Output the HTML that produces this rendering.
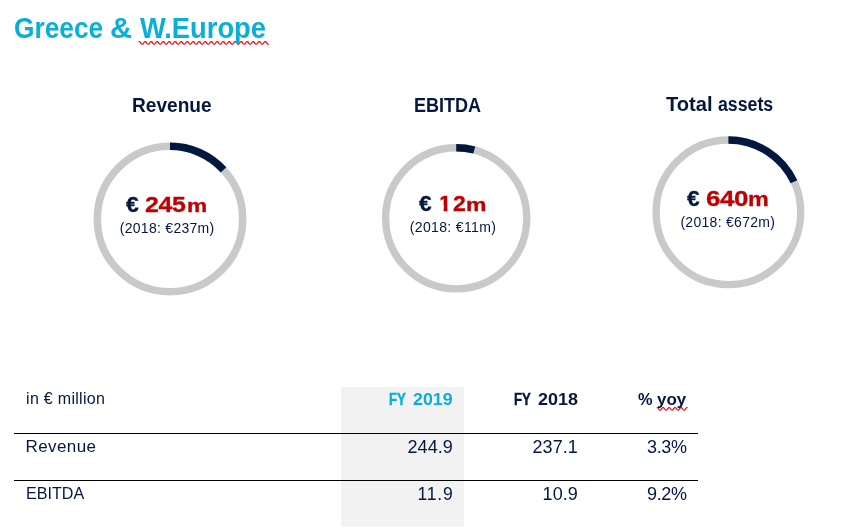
<!DOCTYPE html>
<html lang="en"><head><meta charset="utf-8"><title>Greece &amp; W.Europe</title>
<style>
html,body{margin:0;padding:0;background:#fff}
body{width:865px;height:529px;position:relative;overflow:hidden;font-family:"Liberation Sans",sans-serif}
.g{position:absolute;left:0;top:0}
.grp{margin:0;padding:0;font-size:0;line-height:0;height:0}
.t{position:absolute;white-space:nowrap;line-height:1;transform-origin:0 0}
</style></head>
<body>
<svg class="g" width="865" height="529" viewBox="0 0 865 529"><rect x="341" y="387" width="122.8" height="139.7" fill="#F2F2F2"/><rect x="14" y="433" width="684" height="1" fill="#000"/><rect x="14" y="480" width="684" height="1" fill="#000"/><circle cx="170" cy="219.05" r="72.7" fill="none" stroke="#C8C9CB" stroke-width="7.5"/><path d="M170 146.35A72.7 72.7 0 0 1 223.51 169.84" fill="none" stroke="#00183E" stroke-width="7.5"/><circle cx="456.2" cy="218.3" r="70.6" fill="none" stroke="#C8C9CB" stroke-width="7.4"/><path d="M456.2 147.70A70.6 70.6 0 0 1 474.23 150.04" fill="none" stroke="#00183E" stroke-width="7.4"/><circle cx="728.4" cy="212.3" r="72.3" fill="none" stroke="#C8C9CB" stroke-width="7.3"/><path d="M728.4 140.00A72.3 72.3 0 0 1 793.93 181.74" fill="none" stroke="#00183E" stroke-width="7.3"/><path d="M139.0 41.53L139.5 41.57L140.0 41.96L140.5 42.61L141.0 43.33L141.5 43.94L142.0 44.27L142.5 44.23L143.0 43.84L143.5 43.19L144.0 42.47L144.5 41.86L145.0 41.53L145.5 41.57L146.0 41.96L146.5 42.61L147.0 43.33L147.5 43.94L148.0 44.27L148.5 44.23L149.0 43.84L149.5 43.19L150.0 42.47L150.5 41.86L151.0 41.53L151.5 41.57L152.0 41.96L152.5 42.61L153.0 43.33L153.5 43.94L154.0 44.27L154.5 44.23L155.0 43.84L155.5 43.19L156.0 42.47L156.5 41.86L157.0 41.53L157.5 41.57L158.0 41.96L158.5 42.61L159.0 43.33L159.5 43.94L160.0 44.27L160.5 44.23L161.0 43.84L161.5 43.19L162.0 42.47L162.5 41.86L163.0 41.53L163.5 41.57L164.0 41.96L164.5 42.61L165.0 43.33L165.5 43.94L166.0 44.27L166.5 44.23L167.0 43.84L167.5 43.19L168.0 42.47L168.5 41.86L169.0 41.53L169.5 41.57L170.0 41.96L170.5 42.61L171.0 43.33L171.5 43.94L172.0 44.27L172.5 44.23L173.0 43.84L173.5 43.19L174.0 42.47L174.5 41.86L175.0 41.53L175.5 41.57L176.0 41.96L176.5 42.61L177.0 43.33L177.5 43.94L178.0 44.27L178.5 44.23L179.0 43.84L179.5 43.19L180.0 42.47L180.5 41.86L181.0 41.53L181.5 41.57L182.0 41.96L182.5 42.61L183.0 43.33L183.5 43.94L184.0 44.27L184.5 44.23L185.0 43.84L185.5 43.19L186.0 42.47L186.5 41.86L187.0 41.53L187.5 41.57L188.0 41.96L188.5 42.61L189.0 43.33L189.5 43.94L190.0 44.27L190.5 44.23L191.0 43.84L191.5 43.19L192.0 42.47L192.5 41.86L193.0 41.53L193.5 41.57L194.0 41.96L194.5 42.61L195.0 43.33L195.5 43.94L196.0 44.27L196.5 44.23L197.0 43.84L197.5 43.19L198.0 42.47L198.5 41.86L199.0 41.53L199.5 41.57L200.0 41.96L200.5 42.61L201.0 43.33L201.5 43.94L202.0 44.27L202.5 44.23L203.0 43.84L203.5 43.19L204.0 42.47L204.5 41.86L205.0 41.53L205.5 41.57L206.0 41.96L206.5 42.61L207.0 43.33L207.5 43.94L208.0 44.27L208.5 44.23L209.0 43.84L209.5 43.19L210.0 42.47L210.5 41.86L211.0 41.53L211.5 41.57L212.0 41.96L212.5 42.61L213.0 43.33L213.5 43.94L214.0 44.27L214.5 44.23L215.0 43.84L215.5 43.19L216.0 42.47L216.5 41.86L217.0 41.53L217.5 41.57L218.0 41.96L218.5 42.61L219.0 43.33L219.5 43.94L220.0 44.27L220.5 44.23L221.0 43.84L221.5 43.19L222.0 42.47L222.5 41.86L223.0 41.53L223.5 41.57L224.0 41.96L224.5 42.61L225.0 43.33L225.5 43.94L226.0 44.27L226.5 44.23L227.0 43.84L227.5 43.19L228.0 42.47L228.5 41.86L229.0 41.53L229.5 41.57L230.0 41.96L230.5 42.61L231.0 43.33L231.5 43.94L232.0 44.27L232.5 44.23L233.0 43.84L233.5 43.19L234.0 42.47L234.5 41.86L235.0 41.53L235.5 41.57L236.0 41.96L236.5 42.61L237.0 43.33L237.5 43.94L238.0 44.27L238.5 44.23L239.0 43.84L239.5 43.19L240.0 42.47L240.5 41.86L241.0 41.53L241.5 41.57L242.0 41.96L242.5 42.61L243.0 43.33L243.5 43.94L244.0 44.27L244.5 44.23L245.0 43.84L245.5 43.19L246.0 42.47L246.5 41.86L247.0 41.53L247.5 41.57L248.0 41.96L248.5 42.61L249.0 43.33L249.5 43.94L250.0 44.27L250.5 44.23L251.0 43.84L251.5 43.19L252.0 42.47L252.5 41.86L253.0 41.53L253.5 41.57L254.0 41.96L254.5 42.61L255.0 43.33L255.5 43.94L256.0 44.27L256.5 44.23L257.0 43.84L257.5 43.19L258.0 42.47L258.5 41.86L259.0 41.53L259.5 41.57L260.0 41.96L260.5 42.61L261.0 43.33L261.5 43.94L262.0 44.27L262.5 44.23L263.0 43.84L263.5 43.19L264.0 42.47L264.5 41.86L265.0 41.53L265.5 41.57L266.0 41.96L266.5 42.61L267.0 43.33L267.5 43.94L268.0 44.27L268.5 44.23" fill="none" stroke="#E8000A" stroke-width="1.15" stroke-linejoin="round" stroke-linecap="round"/><path d="M657.2 407.56L657.7 407.80L658.2 408.32L658.7 408.99L659.2 409.61L659.7 410.04L660.2 410.14L660.7 409.90L661.2 409.38L661.7 408.71L662.2 408.09L662.7 407.66L663.2 407.56L663.7 407.80L664.2 408.32L664.7 408.99L665.2 409.61L665.7 410.04L666.2 410.14L666.7 409.90L667.2 409.38L667.7 408.71L668.2 408.09L668.7 407.66L669.2 407.56L669.7 407.80L670.2 408.32L670.7 408.99L671.2 409.61L671.7 410.04L672.2 410.14L672.7 409.90L673.2 409.38L673.7 408.71L674.2 408.09L674.7 407.66L675.2 407.56L675.7 407.80L676.2 408.32L676.7 408.99L677.2 409.61L677.7 410.04L678.2 410.14L678.7 409.90L679.2 409.38L679.7 408.71L680.2 408.09L680.7 407.66L681.2 407.56L681.7 407.80L682.2 408.32L682.7 408.99L683.2 409.61L683.7 410.04L684.2 410.14L684.7 409.90L685.2 409.38L685.7 408.71L686.2 408.09L686.7 407.66L687.2 407.56" fill="none" stroke="#E8000A" stroke-width="1.15" stroke-linejoin="round" stroke-linecap="round"/></svg>
<h1 class="grp"><span class="t" style="left:14.0px;top:13.6px;font-size:29.0px;font-weight:700;letter-spacing:0px;color:#09AFD8;transform:scaleX(0.906)">Greece</span> <span class="t" style="left:110.0px;top:13.6px;font-size:29.0px;font-weight:700;letter-spacing:0px;color:#09AFD8;transform:scaleX(1.051)">&amp;</span> <span class="t" style="left:140.1px;top:13.6px;font-size:29.0px;font-weight:700;letter-spacing:0px;color:#09AFD8;transform:scaleX(0.942)">W.Europe</span></h1>
<div class="t" style="left:132.2px;top:94.9px;font-size:20.0px;font-weight:700;letter-spacing:0px;color:#04183E;transform:scaleX(0.955)">Revenue</div>
<p class="grp"><span class="t" style="left:126.0px;top:195.3px;font-size:21.5px;font-weight:700;letter-spacing:0px;color:#04183E;transform:scaleX(1.064);-webkit-text-stroke:0.3px #04183E">€</span> <span class="t" style="left:145.3px;top:194.2px;font-size:22.0px;font-weight:700;letter-spacing:-0.26px;color:#C00000;transform:scaleX(1.13);-webkit-text-stroke:0.3px #C00000">245</span><span class="t" style="left:186.8px;top:196.4px;font-size:19.0px;font-weight:700;letter-spacing:0px;color:#C00000;transform:scaleX(1.193);-webkit-text-stroke:0.3px #C00000">m</span></p>
<div class="t" style="left:119.8px;top:220.7px;font-size:14.0px;font-weight:400;letter-spacing:0.28px;color:#04183E">(2018: €237m)</div>
<div class="t" style="left:413.6px;top:95.0px;font-size:20.5px;font-weight:700;letter-spacing:0px;color:#04183E;transform:scaleX(0.879)">EBITDA</div>
<p class="grp"><span class="t" style="left:419.0px;top:194.1px;font-size:21.5px;font-weight:700;letter-spacing:0px;color:#04183E;transform:scaleX(1.055);-webkit-text-stroke:0.3px #04183E">€</span> <span class="t" style="left:438.4px;top:193.3px;font-size:22.5px;font-weight:700;letter-spacing:0px;color:#C00000;transform:scaleX(1.12);-webkit-text-stroke:0.3px #C00000;clip-path:polygon(2.1px -5px,8.48px -5px,8.48px 40px,5.03px 40px,5.03px 12px,2.1px 12px)">1</span><span class="t" style="left:452.6px;top:193.3px;font-size:22.0px;font-weight:700;letter-spacing:0px;color:#C00000;transform:scaleX(1.045);-webkit-text-stroke:0.3px #C00000">2</span><span class="t" style="left:465.9px;top:195.3px;font-size:19.0px;font-weight:700;letter-spacing:0px;color:#C00000;transform:scaleX(1.207);-webkit-text-stroke:0.3px #C00000">m</span></p>
<div class="t" style="left:409.8px;top:219.6px;font-size:14.0px;font-weight:400;letter-spacing:0.35px;color:#04183E">(2018: €11m)</div>
<p class="grp"><span class="t" style="left:665.6px;top:93.7px;font-size:20.0px;font-weight:700;letter-spacing:0px;color:#04183E;transform:scaleX(1.006)">Total</span> <span class="t" style="left:717.6px;top:93.7px;font-size:20.0px;font-weight:700;letter-spacing:0px;color:#04183E;transform:scaleX(0.887)">assets</span></p>
<p class="grp"><span class="t" style="left:686.8px;top:188.9px;font-size:21.5px;font-weight:700;letter-spacing:0px;color:#04183E;transform:scaleX(1.055);-webkit-text-stroke:0.3px #04183E">€</span> <span class="t" style="left:705.6px;top:187.9px;font-size:22.0px;font-weight:700;letter-spacing:-0.34px;color:#C00000;transform:scaleX(1.18);-webkit-text-stroke:0.3px #C00000">640</span><span class="t" style="left:748.0px;top:189.2px;font-size:20.0px;font-weight:700;letter-spacing:0px;color:#C00000;transform:scaleX(1.168);-webkit-text-stroke:0.3px #C00000">m</span></p>
<div class="t" style="left:680.4px;top:215.3px;font-size:14.0px;font-weight:400;letter-spacing:0.29px;color:#04183E">(2018: €672m)</div>
<div class="t" style="left:26.1px;top:390.9px;font-size:16.0px;font-weight:400;letter-spacing:0.29px;color:#04183E">in € million</div>
<p class="grp"><span class="t" style="left:389.1px;top:391.1px;font-size:17.0px;font-weight:700;letter-spacing:0px;color:#09AFD8;transform:scaleX(0.776);-webkit-text-stroke:0.45px #09AFD8">FY</span> <span class="t" style="left:413.0px;top:391.4px;font-size:17.0px;font-weight:700;letter-spacing:0px;color:#09AFD8;transform:scaleX(1.048)">2019</span></p>
<p class="grp"><span class="t" style="left:514.1px;top:391.1px;font-size:17.0px;font-weight:700;letter-spacing:0px;color:#04183E;transform:scaleX(0.776);-webkit-text-stroke:0.45px #04183E">FY</span> <span class="t" style="left:538.0px;top:391.4px;font-size:17.0px;font-weight:700;letter-spacing:0px;color:#04183E;transform:scaleX(1.056)">2018</span></p>
<p class="grp"><span class="t" style="left:638.0px;top:391.4px;font-size:17.0px;font-weight:700;letter-spacing:0px;color:#04183E;transform:scaleX(0.961)">%</span> <span class="t" style="left:657.0px;top:391.4px;font-size:17.0px;font-weight:700;letter-spacing:0px;color:#04183E;transform:scaleX(0.997)">yoy</span></p>
<div class="t" style="left:25.6px;top:437.5px;font-size:17.0px;font-weight:400;letter-spacing:0.38px;color:#04183E">Revenue</div>
<div class="t" style="left:407.5px;top:437.6px;font-size:18.0px;font-weight:400;letter-spacing:0.06px;color:#04183E">244.9</div>
<div class="t" style="left:532.5px;top:437.6px;font-size:18.0px;font-weight:400;letter-spacing:0.06px;color:#04183E">237.1</div>
<div class="t" style="left:647.0px;top:437.6px;font-size:18.0px;font-weight:400;letter-spacing:-0.33px;color:#04183E">3.3%</div>
<div class="t" style="left:26.1px;top:484.5px;font-size:17.0px;font-weight:400;letter-spacing:0px;color:#04183E;transform:scaleX(0.949)">EBITDA</div>
<div class="t" style="left:417.4px;top:485.6px;font-size:17.5px;font-weight:400;letter-spacing:0.85px;color:#04183E">11.9</div>
<div class="t" style="left:542.6px;top:484.6px;font-size:18.0px;font-weight:400;letter-spacing:0.03px;color:#04183E">10.9</div>
<div class="t" style="left:647.0px;top:484.6px;font-size:18.0px;font-weight:400;letter-spacing:-0.33px;color:#04183E">9.2%</div>
</body></html>
